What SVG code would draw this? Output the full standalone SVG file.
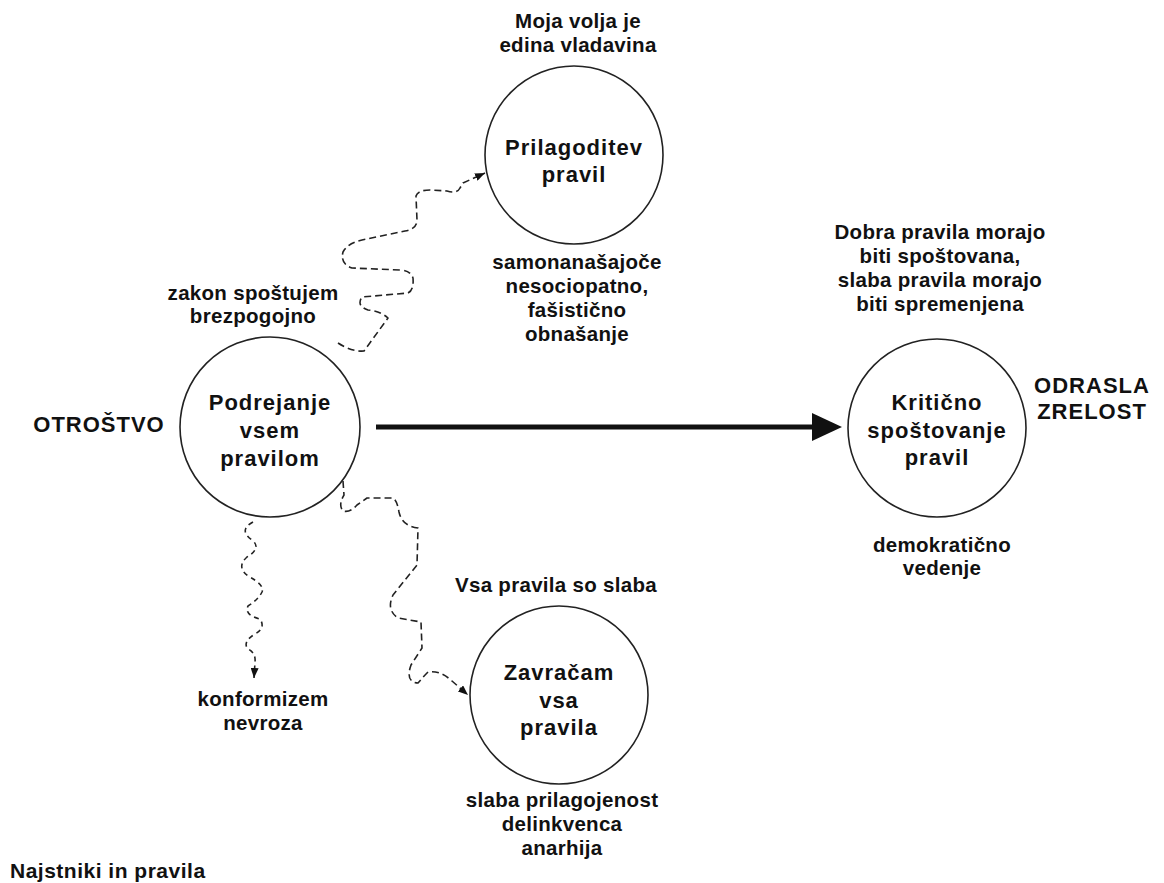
<svg xmlns="http://www.w3.org/2000/svg" width="1164" height="883" viewBox="0 0 1164 883">
<style>
text{font-family:"Liberation Sans",Arial,sans-serif;font-weight:bold;fill:#111;}
.lbl{font-size:20.5px;letter-spacing:0.3px;text-anchor:middle;}
.ctr{font-size:22px;letter-spacing:1px;text-anchor:middle;}
.node{fill:#fff;stroke:#222;stroke-width:1.6;}
.wave{fill:none;stroke:#222;stroke-width:1.6;stroke-dasharray:7 4;stroke-linejoin:round;}
.wave2{fill:none;stroke:#222;stroke-width:1.6;stroke-dasharray:5 4;stroke-linejoin:round;}
</style>
<defs>
<marker id="ah" viewBox="0 0 10 8" refX="10" refY="4" markerWidth="10" markerHeight="8" markerUnits="userSpaceOnUse" orient="auto">
<path d="M0,0 L10,4 L0,8 z" fill="#111" stroke="none"/>
</marker>
</defs>
<rect width="1164" height="883" fill="#fff"/>
<g id="connectors">
<line x1="376" y1="427" x2="814" y2="427" stroke="#111" stroke-width="5"/>
<polygon points="812,413 842,427 812,441" fill="#111"/>
<path class="wave" marker-end="url(#ah)" d="M338,343 Q352,352 364,351 L388,318 Q380,311 368,310 Q356,306 362,297 L408,293 Q414,290 413,278 Q410,270 400,270 L352,268 Q340,264 343,252 Q348,243 362,240 L405,231 Q417,229 417,220 L416,196 Q418,190 430,190 L447,191 Q457,194 460,188 L463,183 L485,173"/>
<path class="wave" marker-end="url(#ah)" d="M343,481 L344,495 Q338,505 343,511 Q350,513 357,505 L367,498 L393,498 Q397,500 399,512 Q402,526 418,528 L417,565 L393,595 Q386,610 398,618 L421,622 L422,648 L411,665 Q405,682 418,683 Q424,676 428,672 Q440,670 452,681 L468,695"/>
<path class="wave2" marker-end="url(#ah)" d="M253,522 Q238,530 252,540 Q262,548 247,557 Q236,567 248,576 Q265,585 262,592 Q258,600 248,606 Q244,615 260,619 Q266,628 255,634 Q242,642 248,649 Q256,653 255,662 L254,678"/>
</g>
<g id="node-podrejanje">
<circle class="node" cx="270" cy="427" r="90"/>
<text class="ctr" x="270" y="410">Podrejanje</text>
<text class="ctr" x="270" y="438">vsem</text>
<text class="ctr" x="270" y="466">pravilom</text>
</g>
<g id="node-prilagoditev">
<circle class="node" cx="574" cy="155" r="89"/>
<text class="ctr" x="574" y="155">Prilagoditev</text>
<text class="ctr" x="574" y="182">pravil</text>
</g>
<g id="node-zavracam">
<circle class="node" cx="559" cy="695" r="89"/>
<text class="ctr" x="559" y="680">Zavračam</text>
<text class="ctr" x="559" y="708">vsa</text>
<text class="ctr" x="559" y="735">pravila</text>
</g>
<g id="node-kriticno">
<circle class="node" cx="937" cy="428" r="89"/>
<text class="ctr" x="937" y="410">Kritično</text>
<text class="ctr" x="937" y="438">spoštovanje</text>
<text class="ctr" x="937" y="465">pravil</text>
</g>
<g id="labels">
<text class="lbl" x="578" y="28">Moja volja je</text>
<text class="lbl" x="578" y="52">edina vladavina</text>
<text class="lbl" x="577" y="269">samonanašajoče</text>
<text class="lbl" x="577" y="293">nesociopatno,</text>
<text class="lbl" x="577" y="317">fašistično</text>
<text class="lbl" x="577" y="341">obnašanje</text>
<text class="lbl" x="253" y="300">zakon spoštujem</text>
<text class="lbl" x="253" y="323">brezpogojno</text>
<text class="ctr" x="99" y="432">OTROŠTVO</text>
<text class="lbl" x="940" y="239">Dobra pravila morajo</text>
<text class="lbl" x="940" y="263">biti spoštovana,</text>
<text class="lbl" x="940" y="287">slaba pravila morajo</text>
<text class="lbl" x="940" y="311">biti spremenjena</text>
<text class="ctr" x="1092" y="393">ODRASLA</text>
<text class="ctr" x="1092" y="419">ZRELOST</text>
<text class="lbl" x="942" y="552">demokratično</text>
<text class="lbl" x="942" y="575">vedenje</text>
<text class="lbl" x="556" y="592">Vsa pravila so slaba</text>
<text class="lbl" x="562" y="807">slaba prilagojenost</text>
<text class="lbl" x="562" y="831">delinkvenca</text>
<text class="lbl" x="562" y="855">anarhija</text>
<text class="lbl" x="263" y="706">konformizem</text>
<text class="lbl" x="263" y="730">nevroza</text>
<text x="10" y="878" style="font-size:21px;letter-spacing:0.5px;">Najstniki in pravila</text>
</g>
</svg>
